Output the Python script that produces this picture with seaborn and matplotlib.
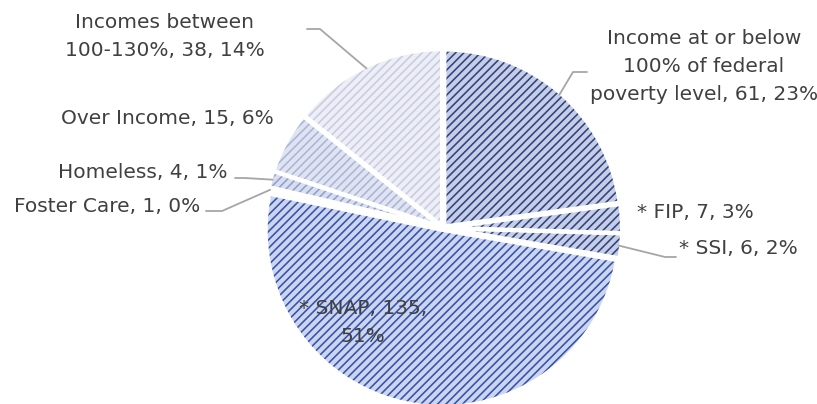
import matplotlib.pyplot as plt
import numpy as np
import seaborn as sns

# data, clockwise from 12 o'clock
categories = ["Income at or below\n100% of federal\npoverty level", "* FIP", "* SSI", "* SNAP",
              "Foster Care", "Homeless", "Over Income", "Incomes between\n100-130%"]
counts = [61, 7, 6, 135, 1, 4, 15, 38]

face_colors = ["#c6cde4", "#c6cde4", "#c6cde4", "#ccd5ef", "#ccd5ef", "#d8deef", "#e0e4f1", "#edeff5"]
hatch_colors = ["#2c4482", "#2c4482", "#2c4482", "#3452a8", "#3452a8", "#8fa0cf", "#a9b5da", "#c5cce3"]

# label layout in pixels (x, y from top), and leader line elbows
label_pos = [(704, 67), (695, 212), (738, 248), (363, 323), (107, 207), (143, 172), (167, 118), (165, 37)]
elbows = [[(587, 72), (573, 72)], None, [(676, 257), (665, 257)], None,
          [(206, 211), (222, 211)], [(235, 178), (245, 178)], None, [(307, 29), (320, 29)]]

sns.set_theme(style="white")
plt.rcParams["font.family"] = ["DejaVu Sans"]
plt.rcParams["hatch.linewidth"] = 1.15

W, H = 817, 404
cx, cy, r = 443, H - 228, 177

fig = plt.figure(figsize=(W / 100, H / 100), dpi=100)
ax = fig.add_axes([0, 0, 1, 1])

total = sum(counts)
wedges, _ = ax.pie(counts, startangle=90, counterclock=False, radius=r, center=(cx, cy),
                   explode=[2] * len(counts), wedgeprops=dict(linewidth=0))
for w, fc, hc in zip(wedges, face_colors, hatch_colors):
    w.set_facecolor(fc)
    w.set_edgecolor(hc)
    w.set_hatch("////")
    w.set_linewidth(0)

# white separators
ax.pie(counts, startangle=90, counterclock=False, radius=r, center=(cx, cy),
       explode=[2] * len(counts), colors=["none"] * len(counts),
       wedgeprops=dict(edgecolor="white", linewidth=3, fill=False))

for i, (name, c) in enumerate(zip(categories, counts)):
    pct = round(c / total * 100)
    if name == "* SNAP":
        txt = f"{name}, {c},\n{pct}%"
    else:
        txt = f"{name}, {c}, {pct}%"
    lx, ly = label_pos[i]
    ax.text(lx, H - ly, txt, ha="center", va="center", fontsize=14.5, color="#404040", linespacing=1.6)
    if elbows[i] is not None:
        w = wedges[i]
        ang = np.deg2rad((w.theta1 + w.theta2) / 2)
        px = cx + r * np.cos(ang)
        py = cy + r * np.sin(ang)
        xs = [p[0] for p in elbows[i]] + [px]
        ys = [H - p[1] for p in elbows[i]] + [py]
        ax.plot(xs, ys, color="#a6a6a6", lw=1.3)

ax.set_xlim(0, W)
ax.set_ylim(0, H)
ax.set_aspect("equal")
ax.axis("off")
fig.savefig("out.png", dpi=100)
